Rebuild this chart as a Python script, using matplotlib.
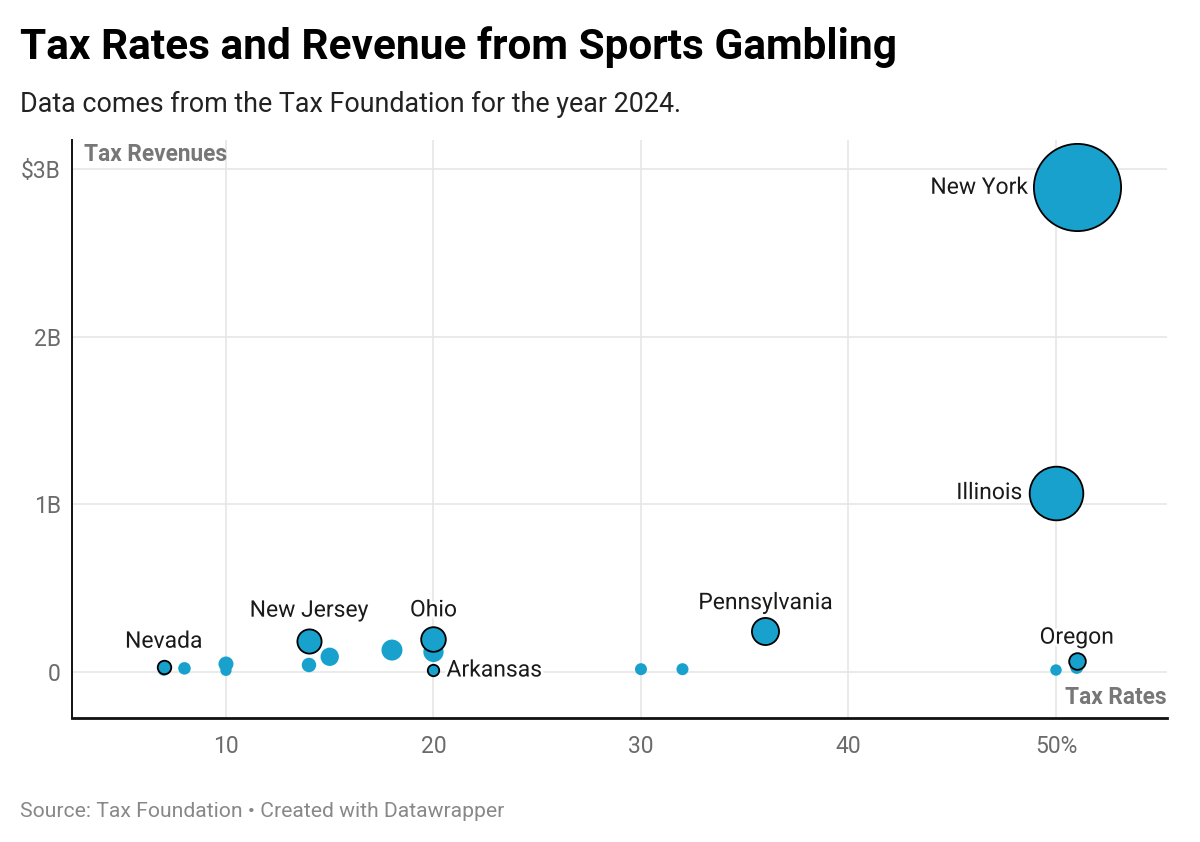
import numpy as np
import matplotlib.pyplot as plt
import matplotlib.patheffects as pe

plt.rcParams['font.family'] = ['Roboto', 'DejaVu Sans']

# Labelled states: tax rate (%) and revenue ($ billions)
states = ["New York", "Illinois", "Pennsylvania", "Ohio", "New Jersey", "Oregon", "Nevada", "Arkansas"]
state_rates = [51, 50, 36, 20, 14, 51, 7, 20]
state_revenue = [2.89, 1.07, 0.244, 0.195, 0.187, 0.068, 0.032, 0.012]

# Other states (not labelled in the chart)
other_rates = [7, 8, 10, 10, 14, 15, 18, 20, 30, 32, 50, 51]
other_revenue = [0.012, 0.022, 0.048, 0.010, 0.042, 0.091, 0.131, 0.120, 0.017, 0.017, 0.012, 0.028]

x_ticks = [10, 20, 30, 40, 50]
x_tick_labels = ["10", "20", "30", "40", "50%"]
y_ticks = [0, 1, 2, 3]
y_tick_labels = ["0", "1B", "2B", "$3B"]

color = "#18a1cd"


def bubble_size(rev):
    # area grows with revenue, with a minimum dot size
    r_px = np.sqrt(25 + 649 * np.asarray(rev))
    return (2 * r_px * 0.72) ** 2


fig = plt.figure(figsize=(12, 8.42), dpi=100)
ax = fig.add_axes([72 / 1200, 1 - 718 / 842, (1167 - 72) / 1200, (718 - 140) / 842])

ax.scatter(other_rates, other_revenue, s=bubble_size(other_revenue), color=color,
           linewidths=0, zorder=3)

order = np.argsort(state_revenue)[::-1]
for i in order:
    ax.scatter(state_rates[i], state_revenue[i], s=bubble_size(state_revenue[i]),
               color=color, edgecolors="black", linewidths=1.3, zorder=4)

# label placement (pixel offsets from bubble centre)
label_pos = {
    "New York": (-49, 0, "right", "center"),
    "Illinois": (-34, 0, "right", "center"),
    "Pennsylvania": (0, 22, "center", "baseline"),
    "Ohio": (0, 23, "center", "baseline"),
    "New Jersey": (0, 24, "center", "baseline"),
    "Oregon": (0, 17, "center", "baseline"),
    "Nevada": (0, 19, "center", "baseline"),
    "Arkansas": (13, 0, "left", "center"),
}
for name, xr, yr in zip(states, state_rates, state_revenue):
    dx, dy, ha, va = label_pos[name]
    ax.annotate(name, (xr, yr), xytext=(dx, dy), textcoords="offset pixels",
                ha=ha, va=va, fontsize=16.5, color="#1a1a1a", zorder=5,
                path_effects=[pe.withStroke(linewidth=4, foreground="white")])

ax.set_xlim(2.58, 55.35)
ax.set_ylim(-0.274, 3.172)
ax.set_xticks(x_ticks)
ax.set_xticklabels(x_tick_labels)
ax.set_yticks(y_ticks)
ax.set_yticklabels(y_tick_labels)
ax.tick_params(length=0, labelsize=16.5, labelcolor="#6b6b6b")
ax.tick_params(axis="x", pad=12)
ax.tick_params(axis="y", pad=8)
ax.grid(True, color="#e6e6e6", linewidth=1.2, zorder=0)
ax.set_axisbelow(True)

for side in ["top", "right"]:
    ax.spines[side].set_visible(False)
ax.spines["left"].set_linewidth(1.4)
ax.spines["bottom"].set_linewidth(2.0)
ax.spines["left"].set_color("#111111")
ax.spines["bottom"].set_color("#111111")

ax.annotate("Tax Revenues", (0, 1), xytext=(12, -21), xycoords="axes fraction",
            textcoords="offset pixels", ha="left", va="baseline", fontsize=16.3,
            fontweight="bold", color="#777777")
ax.annotate("Tax Rates", (1, 0), xytext=(0, 14), xycoords="axes fraction",
            textcoords="offset pixels", ha="right", va="baseline", fontsize=16.3,
            fontweight="bold", color="#777777")

fig.text(20 / 1200, 1 - 59 / 842, "Tax Rates and Revenue from Sports Gambling",
         fontsize=30.5, fontweight="bold", color="#000000", va="baseline")
fig.text(20 / 1200, 1 - 112 / 842, "Data comes from the Tax Foundation for the year 2024.",
         fontsize=19.4, color="#222222", va="baseline")
fig.text(20 / 1200, 1 - 817 / 842, "Source: Tax Foundation • Created with Datawrapper",
         fontsize=15.2, color="#888888", va="baseline")

fig.savefig("out.png", dpi=100)
